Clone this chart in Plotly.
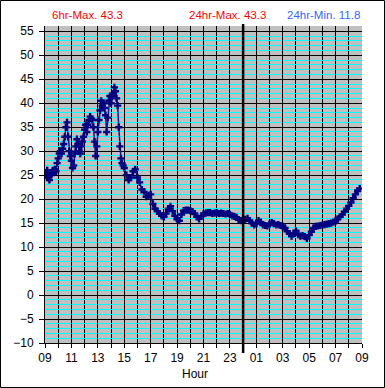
import plotly.graph_objects as go

# Temperature readings, 5-minute steps from 09:00 to 14:55
temp_5min = [
    25.5, 25.0, 26.0, 24.5, 24.0, 25.5, 25.2, 26.0, 25.5, 26.2, 25.8, 27.5,
    28.5, 29.5, 30.0, 29.5, 30.5, 31.5, 33.0, 35.0, 36.0, 33.0, 30.0, 29.0,
    28.0, 26.5, 27.0, 29.5, 31.0, 32.5, 31.5, 30.0, 29.5, 31.0, 32.0, 33.0,
    34.5, 35.5, 34.0, 35.5, 36.5, 37.2, 36.8, 36.5, 35.0, 32.0, 29.0, 31.0,
    34.0, 36.5, 38.5, 40.5, 39.5, 40.0, 39.0, 37.5, 34.0, 37.0, 40.5, 41.5,
    40.0, 41.5, 42.0, 43.3, 42.5, 41.0, 39.5, 35.0, 31.0, 28.5, 27.5, 27.0,
]
# Temperature readings, 10-minute steps from 15:00 to 08:50
temp_10min = [
    26.5, 25.0, 24.0, 24.5, 25.8, 26.2,
    24.5, 23.5, 22.0, 21.5, 20.5, 20.8,
    21.0, 19.0, 18.0, 17.5, 17.0, 16.5,
    16.3, 17.0, 18.0, 18.5, 17.5, 16.5,
    15.8, 15.5, 16.8, 17.6, 17.7, 17.7,
    17.6, 17.4, 17.0, 16.3, 15.9, 16.5,
    16.9, 17.1, 17.2, 17.2, 17.0, 17.1,
    17.2, 17.0, 17.1, 17.0, 16.9, 17.0,
    16.8, 16.5, 16.4, 16.2, 15.7, 15.5,
    15.6, 15.8, 16.0, 15.5, 15.0, 14.6,
    14.9, 15.5, 15.2, 14.6, 14.5, 14.4,
    14.8, 15.1, 14.9, 14.6, 14.7, 14.5,
    14.3, 14.0, 13.3, 12.8, 12.3, 12.8,
    13.4, 12.6, 12.3, 12.4, 12.2, 11.8,
    12.5, 13.2, 14.0, 14.3, 14.4, 14.5,
    14.6, 14.7, 14.8, 14.9, 15.0, 15.2,
    15.4, 15.9, 16.3, 16.8, 17.4, 18.0,
    18.6, 19.3, 20.2, 21.0, 21.8, 22.2,
]
tick_labels = ["09", "11", "13", "15", "17", "19", "21", "23", "01", "03", "05", "07", "09"]
stats = ["6hr-Max. 43.3", "24hr-Max. 43.3", "24hr-Min. 11.8"]
midnight_hour = 15  # hours after 09:00

hours = [i * 5 / 60 for i in range(len(temp_5min))] + \
        [6 + i * 10 / 60 for i in range(len(temp_10min))]
temps = temp_5min + temp_10min

FONT = "Liberation Sans, Arial, sans-serif"
fig = go.Figure()
fig.add_trace(go.Scatter(
    x=hours, y=temps, mode="lines+markers",
    line=dict(color="#1010A0", width=1.5),
    marker=dict(symbol="cross", size=6, color="#000080"),
    showlegend=False, hoverinfo="skip",
))

ann_common = dict(xref="paper", yref="paper", showarrow=False,
                  xanchor="center", yanchor="middle")
fig.update_layout(
    width=385, height=388,
    margin=dict(l=45, r=23, t=26, b=45),
    paper_bgcolor="white", plot_bgcolor="#C0C0C0",
    font=dict(family=FONT, size=12, color="black"),
    xaxis=dict(
        range=[0, 24], tickmode="array",
        tickvals=list(range(0, 25, 2)), ticktext=tick_labels,
        showgrid=True, gridcolor="black", gridwidth=1,
        ticks="outside", ticklen=4, tickcolor="black",
        showline=True, linecolor="black", linewidth=1,
        zeroline=False,
        minor=dict(tickmode="array", tickvals=list(range(25)),
                   showgrid=True, gridcolor="black", gridwidth=1,
                   ticks="outside", ticklen=4, tickcolor="black"),
        tickfont=dict(size=12),
    ),
    yaxis=dict(
        range=[-10, 56.1], tickmode="linear", tick0=-10, dtick=5,
        showgrid=True, gridcolor="black", gridwidth=1,
        ticks="outside", ticklen=5, tickcolor="black",
        showline=True, linecolor="black", linewidth=1,
        zeroline=False, ticklabelstandoff=3,
        minor=dict(dtick=1, showgrid=True, gridcolor="#00FFFF", gridwidth=1),
        tickfont=dict(size=12),
    ),
    shapes=[
        dict(type="line", xref="x", yref="paper", x0=midnight_hour, x1=midnight_hour,
             y0=-0.0315, y1=1.006, line=dict(color="black", width=2.5), layer="above"),
        dict(type="rect", xref="paper", yref="paper",
             x0=-0.1404, x1=1.0710, y0=-0.1404, y1=1.0804,
             line=dict(color="black", width=1), fillcolor="rgba(0,0,0,0)"),
    ],
    annotations=[
        dict(text=stats[0], x=0.1356, y=1.0347, font=dict(color="#FF0000", size=11.5), **ann_common),
        dict(text=stats[1], x=0.577, y=1.0347, font=dict(color="#FF0000", size=11.5), **ann_common),
        dict(text=stats[2], x=0.880, y=1.0347, font=dict(color="#3366FF", size=11.5), **ann_common),
        dict(text="Hour", x=0.473, y=-0.0978, font=dict(size=12), **ann_common),
    ],
)
fig.write_html("out.html", config={"displayModeBar": False},
               post_script="document.body.style.margin='0';")
